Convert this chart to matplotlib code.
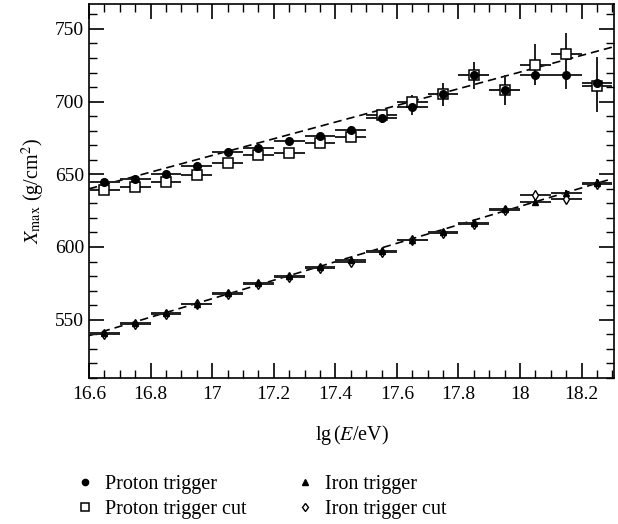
import matplotlib
matplotlib.use("Agg")
import matplotlib.pyplot as plt
from matplotlib.ticker import MultipleLocator, FuncFormatter
from matplotlib.lines import Line2D

plt.rcParams['font.family'] = ['Liberation Serif', 'DejaVu Serif']
plt.rcParams['mathtext.fontset'] = 'stix'

lgE = [16.65, 16.75, 16.85, 16.95, 17.05, 17.15, 17.25, 17.35, 17.45,
       17.55, 17.65, 17.75, 17.85, 17.95, 18.05, 18.15, 18.25]
bin_half = 0.05

proton = [645, 646.5, 650, 655.5, 665, 668, 673, 676, 680.5,
          689, 696, 705, 718, 708, 718.5, 718.5, 713]
proton_err = [1.5, 1.5, 1.5, 1.5, 2, 2, 2, 2.5, 3,
              4, 5, 8, 9, 10, 7, 9.5, 18]
proton_cut = [639.5, 641, 644.5, 649.5, 658, 663.5, 664.5, 671.5, 675.5,
              690.5, 699.5, 705, 718, 708, 725.5, 732.5, 711]
proton_cut_err = [1.5, 1.5, 1.5, 1.5, 2, 2, 2, 2.5, 3,
                  4, 5, 8, 9, 10, 14, 15, 18]
iron = [540.5, 547.5, 554.5, 561, 568, 575, 580, 586, 591,
        597.5, 605, 610, 616.5, 626, 631, 637, 644]
iron_err = [1, 1, 1, 1, 1, 1, 1, 1, 1,
            1, 1, 1.2, 1.2, 1.5, 2, 2.5, 3]
iron_cut = [540, 547, 554, 560.5, 567.5, 574.5, 579.5, 585.5, 590,
            596.5, 604.5, 609.5, 616, 625.5, 635.5, 633, 643.5]
iron_cut_err = [1, 1, 1, 1, 1, 1, 1, 1, 1,
                1, 1, 1.2, 1.2, 1.5, 2.5, 3, 3]

fit_x = [16.6, 18.3]
proton_fit = [640, 737.5]
iron_fit = [539, 647]

fig = plt.figure(figsize=(6.18, 5.24), dpi=100)
ax = fig.add_axes([0.144, 0.279, 0.8495, 0.713])

xerr = [bin_half] * len(lgE)
ekw = dict(ls='none', ecolor='#222222', elinewidth=1.4, capsize=0, zorder=3)

ax.plot(fit_x, proton_fit, ls=(0, (5, 3)), color='black', lw=1.2, zorder=2)
ax.plot(fit_x, iron_fit, ls=(0, (5, 3)), color='black', lw=1.2, zorder=2)

ax.errorbar(lgE, proton_cut, xerr=xerr, yerr=proton_cut_err, marker='s', ms=6.5,
            mfc='white', mec='black', mew=1.1, **ekw)
ax.errorbar(lgE, proton, xerr=xerr, yerr=proton_err, marker='o', ms=5.5,
            mfc='black', mec='black', **ekw)
ax.errorbar(lgE, iron_cut, xerr=xerr, yerr=iron_cut_err, marker='d', ms=5,
            mfc='white', mec='black', mew=1.0, **ekw)
ax.errorbar(lgE, iron, xerr=xerr, yerr=iron_err, marker='^', ms=5,
            mfc='black', mec='black', **ekw)

ax.set_xlim(16.6, 18.305)
ax.set_ylim(510, 767)
ax.xaxis.set_major_locator(MultipleLocator(0.2))
ax.xaxis.set_minor_locator(MultipleLocator(0.05))
ax.yaxis.set_major_locator(MultipleLocator(50))
ax.yaxis.set_minor_locator(MultipleLocator(10))
ax.tick_params(which='both', direction='in', top=True, right=True, labelsize=14)
ax.tick_params(which='major', length=11, width=1.2)
ax.tick_params(which='minor', length=6, width=1.0)
ax.tick_params(axis='x', pad=6)
for s in ax.spines.values():
    s.set_linewidth(1.2)
ax.xaxis.set_major_formatter(FuncFormatter(lambda v, p: '%g' % round(v, 1)))

ax.set_xlabel(r'lg$\,$($E$/eV)', fontsize=14.5, labelpad=14)
ax.set_ylabel(r'$X_{\rm max}$ (g/cm$^2$)', fontsize=14.5, labelpad=6)

handles = [
    Line2D([], [], ls='none', marker='o', ms=4.5, mfc='black', mec='black'),
    Line2D([], [], ls='none', marker='s', ms=5.5, mfc='white', mec='black', mew=1.1),
    Line2D([], [], ls='none', marker='^', ms=4, mfc='black', mec='black'),
    Line2D([], [], ls='none', marker='d', ms=4.5, mfc='white', mec='black', mew=1.0),
]
labels = ['Proton trigger', 'Proton trigger cut', 'Iron trigger', 'Iron trigger cut']
fig.legend(handles, labels, ncol=2, loc='lower left', bbox_to_anchor=(0.092, -0.026),
           frameon=False, fontsize=14.5, handlelength=1.0, handletextpad=0.5,
           columnspacing=2.4, labelspacing=0.3)

fig.savefig('out.png', dpi=100)
